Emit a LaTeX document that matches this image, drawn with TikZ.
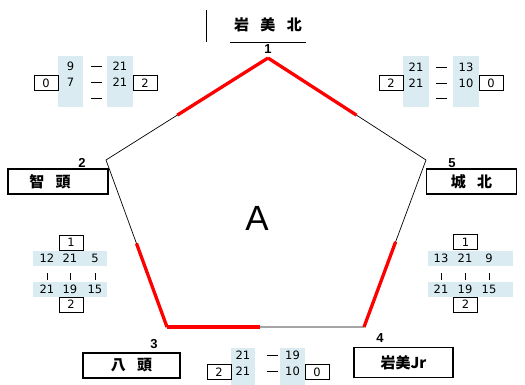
\documentclass[tikz,border=0pt]{standalone}
\usepackage{fontspec}
\setmainfont{Liberation Sans}
\newfontfamily\jpfont{Noto Sans CJK JP}[WordSpace=3.3]
\newfontfamily\scorefont{DejaVu Sans}
\usepackage{tikz}
\usetikzlibrary{calc}
\definecolor{scoreBlue}{RGB}{218,236,242}
\definecolor{winRed}{RGB}{255,0,0}
\tikzset{
  teambox/.style={draw=black, line width=1.1pt, inner sep=0pt},
  teamname/.style={inner sep=0pt, font=\jpfont\bfseries\fontsize{15}{15}\selectfont},
  setbox/.style={draw=black, line width=1pt, inner sep=0pt, minimum width=24pt, minimum height=15pt, font=\scorefont\fontsize{11.5}{12}\selectfont},
  score/.style={inner sep=0pt, font=\scorefont\fontsize{11.5}{12}\selectfont},
  vnum/.style={inner sep=0pt, font=\bfseries\fontsize{13}{13}\selectfont},
  winline/.style={draw=winRed, line width=3.3pt},
  sep/.style={line width=0.9pt},
}

\begin{document}
\begin{tikzpicture}[x=1pt, y=-1pt]
  \useasboundingbox (0,0) rectangle (525,385);

  \coordinate (V1) at (268,58);
  \coordinate (V2) at (106,160);
  \coordinate (V3) at (167,327);
  \coordinate (V4) at (364,327);
  \coordinate (V5) at (426,160);

  \draw[line width=0.7pt] (V1) -- (V2) -- (V3) -- (V4) -- (V5) -- cycle;

  \draw[winline] (V1) -- ($ (V1)!0.56!(V2) $);
  \draw[winline] (V1) -- ($ (V1)!0.56!(V5) $);
  \draw[winline] (V3) -- ($ (V3)!0.5!(V2) $);
  \draw[winline] (V3) -- ($ (V3)!0.47!(V4) $);
  \draw[winline] (V4) -- ($ (V4)!0.51!(V5) $);

  \node[inner sep=0pt, font=\fontsize{35}{35}\selectfont] (pool) at (257,218) {A};

  % teams
  \node[teamname] (iwamikita) at (268,25) {岩 美 北};
  \coordinate (topL) at (206,10);
  \coordinate (topB) at (206,42);
  \draw[line width=1pt] (topL) -- (topB);
  \draw[line width=1pt] ($ (iwamikita.south)+(-38,0) $) ++(0,10) -- +(76,0);

  \node[teambox, minimum width=100pt, minimum height=25pt] (chizu) at (58,181.5) {};
  \node[teamname] at ($ (chizu.center)+(-8,0) $) {智 頭};
  \node[teambox, minimum width=90pt, minimum height=25pt, teamname] (johoku) at (471.5,181.5) {城 北};
  \node[teambox, minimum width=97pt, minimum height=25pt, teamname] (hatto) at (131.5,365.5) {八 頭};
  \node[teambox, minimum width=99pt, minimum height=30pt, teamname] (iwamijr) at (403.5,362.5) {岩美Jr};

  \node[vnum] (n1) at (268,49) {1};
  \node[vnum] (n2) at (82,163) {2};
  \node[vnum] (n3) at (154,344) {3};
  \node[vnum] (n4) at (380,338) {4};
  \node[vnum] (n5) at (452,163) {5};

  % 1 - 2
  \fill[scoreBlue] (58,56) rectangle (83,107);
  \fill[scoreBlue] (107,56) rectangle (133,107);
  \node[score] (a1) at (70.5,66) {9};
  \node[score] (a2) at (70.5,82) {7};
  \node[score] (b1) at (120,66) {21};
  \node[score] (b2) at (120,82) {21};
  \draw[sep] (91,66) -- (102,66);
  \draw[sep] (91,82) -- (102,82);
  \draw[sep] (91,98) -- (102,98);
  \node[setbox] (tlL) at (46,83.5) {0};
  \node[setbox] (tlR) at (145,83.5) {2};

  % 1 - 5
  \fill[scoreBlue] (403,56) rectangle (429,107);
  \fill[scoreBlue] (453,56) rectangle (479,107);
  \node[score] (c1) at (416,67) {21};
  \node[score] (c2) at (416,83) {21};
  \node[score] (d1) at (466,67) {13};
  \node[score] (d2) at (466,83) {10};
  \draw[sep] (435.5,67) -- (446.5,67);
  \draw[sep] (435.5,83) -- (446.5,83);
  \draw[sep] (435.5,98) -- (446.5,98);
  \node[setbox] (trL) at (391,83.5) {2};
  \node[setbox] (trR) at (491,83.5) {0};

  % 3 - 4
  \fill[scoreBlue] (231,348) rectangle (255,385);
  \fill[scoreBlue] (280,348) rectangle (305,385);
  \node[score] (e1) at (243,355) {21};
  \node[score] (e2) at (243,371) {21};
  \node[score] (f1) at (292.5,355) {19};
  \node[score] (f2) at (292.5,371) {10};
  \draw[sep] (266.5,355) -- (277.5,355);
  \draw[sep] (266.5,371) -- (277.5,371);
  \node[setbox] (bL) at (219,372) {2};
  \node[setbox] (bR) at (317,372) {0};

  % 2 - 3
  \node[setbox] (lT) at (71,242.5) {1};
  \fill[scoreBlue] (33,251) rectangle (107,266);
  \fill[scoreBlue] (33,282) rectangle (107,297);
  \node[score] (g1) at (47,258) {12};
  \node[score] (g2) at (70,258) {21};
  \node[score] (g3) at (95,258) {5};
  \node[score] (h1) at (47,289) {21};
  \node[score] (h2) at (70,289) {19};
  \node[score] (h3) at (95,289) {15};
  \draw[sep] (47,273) -- (47,280);
  \draw[sep] (70,273) -- (70,280);
  \draw[sep] (95,273) -- (95,280);
  \node[setbox] (lB) at (71,304.5) {2};

  % 4 - 5
  \node[setbox] (rT) at (465.5,242) {1};
  \fill[scoreBlue] (428,251) rectangle (513,266);
  \fill[scoreBlue] (428,282) rectangle (513,297);
  \node[score] (i1) at (441,258) {13};
  \node[score] (i2) at (465,258) {21};
  \node[score] (i3) at (489,258) {9};
  \node[score] (j1) at (441,289) {21};
  \node[score] (j2) at (465,289) {19};
  \node[score] (j3) at (489,289) {15};
  \draw[sep] (441,273) -- (441,280);
  \draw[sep] (465,273) -- (465,280);
  \draw[sep] (489,273) -- (489,280);
  \node[setbox] (rB) at (465.5,304.5) {2};

\end{tikzpicture}
\end{document}
